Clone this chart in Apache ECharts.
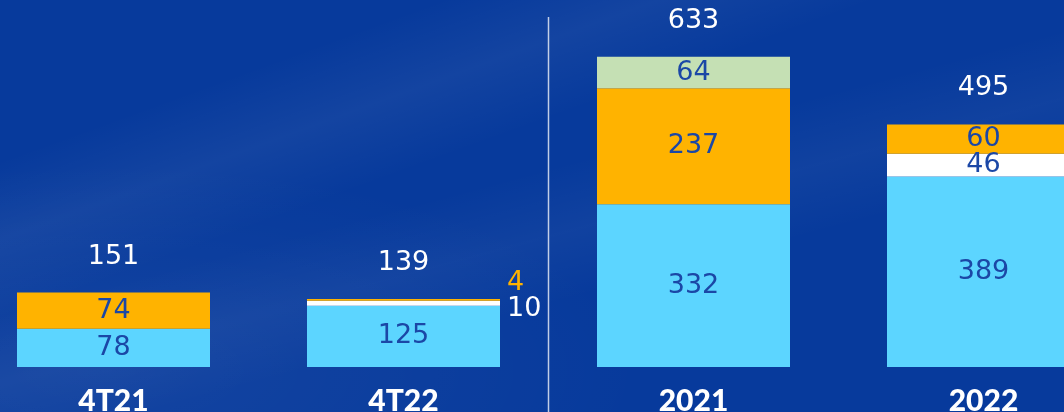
<!DOCTYPE html>
<html>
<head>
<meta charset="utf-8">
<script src="https://cdn.jsdelivr.net/npm/echarts@6/dist/echarts.min.js"></script>
<style>
    html, body { margin: 0; padding: 0; }
    body {
        width: 1064px; height: 412px; overflow: hidden;
        background-color: #073a9c;
        background-image:
            linear-gradient(160deg, rgba(255,255,255,0) 20%, rgba(255,255,255,0.05) 30%, rgba(255,255,255,0) 40%),
            linear-gradient(165deg, rgba(255,255,255,0) 45%, rgba(255,255,255,0.04) 55%, rgba(255,255,255,0) 65%),
            radial-gradient(ellipse at 10% 90%, rgba(255,255,255,0.05), rgba(255,255,255,0) 40%);
    }
    #main { width: 1064px; height: 412px; }
</style>
</head>
<body>
<div id="main"></div>
<script>
var categories = ['4T21', '4T22', '2021', '2022']
var blueValues = [78, 125, 332, 389]
var whiteValues = [0, 10, 0, 46]
var orangeValues = [74, 4, 237, 60]
var greenValues = [0, 0, 64, 0]
var totals = [151, 139, 633, 495]

var numFont = 'DejaVu Sans'
var innerColor = '#1b47a6'

// 4T22 : petites valeurs affichées à droite de la barre
var sideLabels = {
    white: { 1: { position: 'right', distance: 7, offset: [0, 6], color: '#ffffff' } },
    orange: { 1: { position: 'right', distance: 7, offset: [0, -17], color: '#ffb300' } }
}

function buildData(values, side) {
    return values.map(function (v, i) {
        var item = { value: v }
        if (side && side[i]) item.label = side[i]
        return item
    })
}

function stackSeries(name, values, color, side) {
    return {
        name: name,
        type: 'bar',
        stack: 'total',
        barWidth: 193,
        itemStyle: { color: color },
        label: {
            show: true,
            position: 'inside',
            color: innerColor,
            fontFamily: numFont,
            fontSize: 27,
            formatter: function (p) { return p.value ? p.value : '' }
        },
        data: buildData(values, side)
    }
}

var myChart = echarts.init(document.getElementById('main'))
var option = {
    backgroundColor: 'transparent',
    animation: false,
    grid: { left: -31.5, right: -64.5, top: 24, bottom: 45, outerBoundsMode: 'none', containLabel: false },
    xAxis: {
        type: 'category',
        data: categories,
        axisLine: { show: false },
        axisTick: { show: false },
        axisLabel: {
            color: '#ffffff',
            fontFamily: 'Lato',
            fontWeight: 900,
            fontSize: 30,
            margin: 19
        }
    },
    yAxis: {
        type: 'value',
        min: 0,
        max: 700,
        show: false,
        splitLine: { show: false }
    },
    series: [
        stackSeries('blue', blueValues, '#5cd5ff'),
        stackSeries('white', whiteValues, '#ffffff', sideLabels.white),
        stackSeries('orange', orangeValues, '#ffb300', sideLabels.orange),
        stackSeries('green', greenValues, '#c5e0b4'),
        {
            name: 'total',
            type: 'scatter',
            symbolSize: 1,
            itemStyle: { color: 'transparent', opacity: 1 },
            label: {
                show: true,
                position: 'inside',
                offset: [0, -36],
                color: '#ffffff',
                fontFamily: numFont,
                fontSize: 27,
                formatter: '{c}'
            },
            data: totals
        }
    ]
}
myChart.setOption(option)

// séparateur entre trimestres et années
var xSep = (myChart.convertToPixel({ xAxisIndex: 0 }, 1) + myChart.convertToPixel({ xAxisIndex: 0 }, 2)) / 2
myChart.setOption({
    graphic: [{
        type: 'line',
        shape: { x1: xSep, y1: 17, x2: xSep, y2: 412 },
        style: { stroke: 'rgba(255,255,255,0.75)', lineWidth: 1.5 }
    }]
})
</script>
</body>
</html>
